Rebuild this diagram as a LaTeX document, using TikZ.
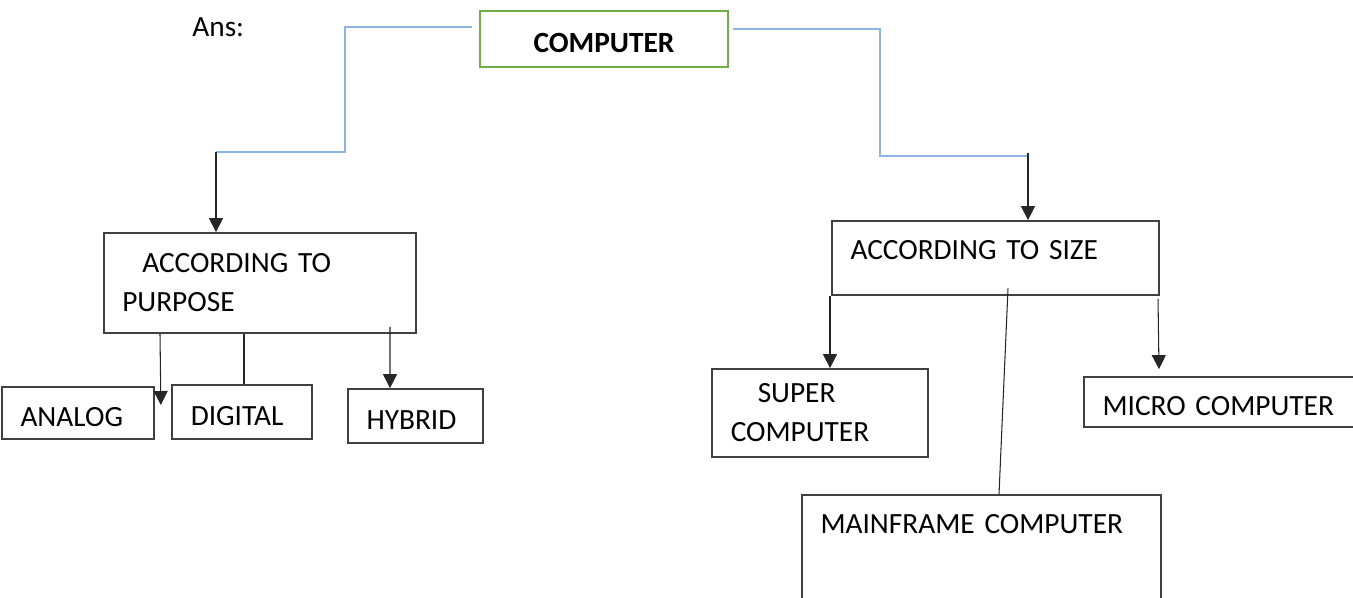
\documentclass[tikz,border=0pt]{standalone}
\usepackage{fontspec}
\setmainfont{Carlito}
\usetikzlibrary{arrows.meta}
\definecolor{boxgray}{HTML}{404040}
\definecolor{linkblue}{HTML}{8DB4E2}
\definecolor{rootgreen}{HTML}{70AD47}
\tikzstyle{box} = [rectangle, draw=boxgray, line width=1pt, inner xsep=0.37cm, inner ysep=0pt, align=left, font=\fontsize{16.7}{22.2}\selectfont]
\tikzstyle{rootbox} = [box, draw=rootgreen, line width=1.6pt, align=center, font=\fontsize{16.7}{22.2}\selectfont\bfseries]
\tikzstyle{oneline} = [text height=0.52cm, text depth=0pt]
\tikzstyle{link} = [draw=linkblue, line width=1.2pt]
\tikzstyle{wire} = [draw=black!85, line width=0.6pt]
\tikzstyle{arrow} = [wire, -{Triangle[width=0.28cm,length=0.28cm]}]

\begin{document}
\begin{tikzpicture}[node distance=2.6cm]
\useasboundingbox (0,0) rectangle (27.06,-11.94);
\clip (0,0) rectangle (27.06,-11.94);

\node (ans) [anchor=base west, inner sep=0pt, font=\fontsize{16.7}{22.2}\selectfont] at (3.84,-0.73) {Ans:};
\node (computer) [rootbox, oneline, text width=4.22cm, minimum height=1.12cm] at (12.08,-0.78) {COMPUTER};

\node (purpose) [box, node distance=4.88cm, below of=computer, xshift=-6.88cm, text width=5.51cm, minimum height=2cm] {\hspace*{0.4cm}ACCORDING TO\\PURPOSE};
\node (size) [box, node distance=4.38cm, below of=computer, xshift=7.83cm, text width=5.8cm, minimum height=1.48cm, text height=0.37cm, text depth=0.32cm] {ACCORDING TO SIZE};

\node (analog) [box, oneline, below of=purpose, xshift=-3.64cm, text width=2.3cm, minimum height=1.04cm] {ANALOG};
\node (digital) [box, oneline, below of=purpose, xshift=-0.36cm, yshift=0.02cm, text width=2.05cm, minimum height=1.08cm] {DIGITAL};
\node (hybrid) [box, oneline, below of=purpose, xshift=3.11cm, yshift=-0.06cm, text width=1.96cm, minimum height=1.08cm] {HYBRID};

\node (super) [box, node distance=3.1cm, below of=size, xshift=-3.51cm, text width=3.57cm, minimum height=1.76cm] {\hspace*{0.54cm}SUPER\\COMPUTER};
\node (micro) [box, oneline, node distance=2.88cm, below of=size, xshift=4.49cm, text width=4.7cm, minimum height=1cm] {MICRO COMPUTER};
\node (mainframe) [box, node distance=5.94cm, below of=size, xshift=-0.28cm, text width=6.44cm, minimum height=2.4cm, text height=0.37cm, text depth=1.24cm] {MAINFRAME COMPUTER};

\coordinate (lsplit) at ([xshift=-0.88cm,yshift=1.6cm]purpose.north);
\coordinate (rsplit) at ([xshift=0.65cm,yshift=1.29cm]size.north);

\draw [link] ([xshift=-0.14cm,yshift=0.24cm]computer.west) -| ([xshift=2.58cm]lsplit) -- (lsplit);
\draw [link] ([xshift=0.08cm,yshift=0.2cm]computer.east) -| ([xshift=-2.96cm]rsplit) -- (rsplit);
\draw [arrow] (lsplit) -- (lsplit |- purpose.north);
\draw [arrow] ([yshift=0.05cm]rsplit) -- (rsplit |- size.north);

\draw [arrow] ([xshift=-2cm]purpose.south) -- ([xshift=0.12cm,yshift=0.16cm]analog.east);
\draw [wire] ([xshift=-0.32cm]purpose.south) -- ([xshift=0.04cm]digital.north);
\draw [arrow] ([xshift=2.6cm,yshift=0.14cm]purpose.south) -- ([xshift=-0.51cm]hybrid.north);

\draw [arrow] ([xshift=-3.31cm]size.south) -- ([xshift=0.2cm]super.north);
\draw [arrow] ([xshift=3.25cm,yshift=-0.06cm]size.south) -- ([xshift=-1.22cm,yshift=0.14cm]micro.north);
\draw [wire] ([xshift=0.25cm,yshift=0.15cm]size.south) -- ([xshift=0.35cm]mainframe.north);

\end{tikzpicture}
\end{document}
